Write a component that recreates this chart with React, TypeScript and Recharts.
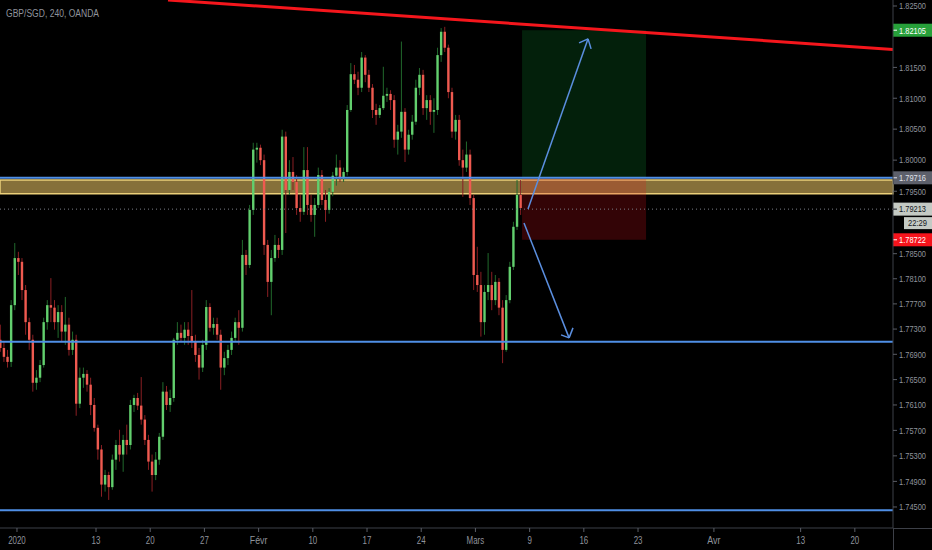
import React from 'react';
import {
  ComposedChart,
  Bar,
  XAxis,
  YAxis,
  ReferenceLine,
  ReferenceArea
} from 'recharts';

// GBP/SGD 8h bars (3 bars per trading day)
const START_DAY = 1.2;
const BARS_PER_DAY = 3;

const OPEN = [
  1.7713, 1.7700, 1.7686, 1.7678, 1.7768, 1.7843, 1.7837, 1.7792, 1.7741, 1.7713,
  1.7645, 1.7653, 1.7673, 1.7741, 1.7768, 1.7764, 1.7741, 1.7757, 1.7726, 1.7737,
  1.7697, 1.7713, 1.7612, 1.7653, 1.7659, 1.7642, 1.7610, 1.7574, 1.7540, 1.7485,
  1.7500, 1.7481, 1.7524, 1.7547, 1.7532, 1.7555, 1.7547, 1.7610, 1.7621, 1.7609,
  1.7587, 1.7555, 1.7521, 1.7500, 1.7524, 1.7560, 1.7631, 1.7610, 1.7621, 1.7713,
  1.7724, 1.7716, 1.7729, 1.7719, 1.7710, 1.7689, 1.7669, 1.7705, 1.7765, 1.7732,
  1.7738, 1.7721, 1.7669, 1.7684, 1.7697, 1.7716, 1.7741, 1.7732, 1.7848, 1.7832,
  1.7920, 1.8017, 1.8020, 1.8000, 1.7864, 1.7805, 1.7843, 1.7864, 1.7856, 1.8038,
  1.7952, 1.7981, 1.7965, 1.7923, 1.7917, 1.7984, 1.7928, 1.7912, 1.7928, 1.7976,
  1.7936, 1.7920, 1.7949, 1.7975, 1.7988, 1.7971, 1.7981, 1.8081, 1.8139, 1.8130,
  1.8117, 1.8166, 1.8138, 1.8117, 1.8081, 1.8073, 1.8084, 1.8104, 1.8107, 1.8097,
  1.8033, 1.8046, 1.8078, 1.8017, 1.8041, 1.8062, 1.8117, 1.8138, 1.8084, 1.8097,
  1.8078, 1.8081, 1.8170, 1.8208, 1.8182, 1.8110, 1.8046, 1.8065, 1.8000, 1.7988,
  1.8009, 1.7939, 1.7816, 1.7800, 1.7741, 1.7789, 1.7800, 1.7776, 1.7805, 1.7764,
  1.7697, 1.7776, 1.7829, 1.7893, 1.7944
];

const HIGH = [
  1.7737, 1.7710, 1.7697, 1.7776, 1.7867, 1.7853, 1.7843, 1.7800, 1.7748, 1.7721,
  1.7665, 1.7681, 1.7748, 1.7776, 1.7811, 1.7776, 1.7768, 1.7768, 1.7781, 1.7748,
  1.7726, 1.7721, 1.7669, 1.7669, 1.7665, 1.7653, 1.7621, 1.7579, 1.7547, 1.7508,
  1.7505, 1.7532, 1.7555, 1.7571, 1.7563, 1.7579, 1.7618, 1.7626, 1.7629, 1.7654,
  1.7594, 1.7563, 1.7532, 1.7536, 1.7566, 1.7646, 1.7640, 1.7634, 1.7716, 1.7741,
  1.7737, 1.7741, 1.7741, 1.7792, 1.7721, 1.7700, 1.7713, 1.7776, 1.7771, 1.7748,
  1.7748, 1.7729, 1.7694, 1.7705, 1.7726, 1.7748, 1.7760, 1.7872, 1.7856, 1.7928,
  1.8028, 1.8028, 1.8025, 1.8009, 1.7872, 1.7856, 1.7880, 1.7875, 1.8049, 1.8046,
  1.8000, 1.8005, 1.7976, 1.7944, 1.8021, 1.8021, 1.7944, 1.7939, 1.7988, 1.7984,
  1.7952, 1.7955, 1.7981, 1.8009, 1.8000, 1.7988, 1.8089, 1.8157, 1.8154, 1.8143,
  1.8175, 1.8170, 1.8146, 1.8123, 1.8091, 1.8089, 1.8151, 1.8117, 1.8113, 1.8105,
  1.8057, 1.8192, 1.8084, 1.8049, 1.8073, 1.8130, 1.8149, 1.8146, 1.8105, 1.8105,
  1.8100, 1.8182, 1.8214, 1.8216, 1.8187, 1.8117, 1.8073, 1.8073, 1.8017, 1.8030,
  1.8017, 1.7944, 1.7861, 1.7821, 1.7800, 1.7851, 1.7821, 1.7816, 1.7811, 1.7776,
  1.7784, 1.7837, 1.7901, 1.7968, 1.7968
];

const LOW = [
  1.7694, 1.7678, 1.7669, 1.7670, 1.7760, 1.7816, 1.7776, 1.7721, 1.7697, 1.7631,
  1.7634, 1.7646, 1.7669, 1.7729, 1.7741, 1.7729, 1.7716, 1.7710, 1.7705, 1.7688,
  1.7689, 1.7593, 1.7605, 1.7637, 1.7631, 1.7594, 1.7568, 1.7524, 1.7466, 1.7474,
  1.7461, 1.7477, 1.7508, 1.7521, 1.7505, 1.7532, 1.7540, 1.7599, 1.7602, 1.7579,
  1.7547, 1.7508, 1.7474, 1.7492, 1.7516, 1.7555, 1.7602, 1.7599, 1.7615, 1.7705,
  1.7710, 1.7705, 1.7705, 1.7700, 1.7678, 1.7650, 1.7662, 1.7697, 1.7726, 1.7721,
  1.7713, 1.7634, 1.7657, 1.7673, 1.7689, 1.7710, 1.7705, 1.7726, 1.7816, 1.7827,
  1.7912, 1.7996, 1.7992, 1.7848, 1.7781, 1.7752, 1.7837, 1.7843, 1.7848, 1.7883,
  1.7944, 1.7952, 1.7912, 1.7901, 1.7912, 1.7912, 1.7901, 1.7877, 1.7923, 1.7928,
  1.7901, 1.7914, 1.7942, 1.7959, 1.7965, 1.7965, 1.7975, 1.8078, 1.8123, 1.8105,
  1.8110, 1.8126, 1.8110, 1.8068, 1.8057, 1.8068, 1.8081, 1.8094, 1.8081, 1.8020,
  1.8009, 1.8036, 1.7997, 1.8009, 1.8033, 1.8057, 1.8105, 1.8073, 1.8065, 1.8057,
  1.8044, 1.8073, 1.8159, 1.8175, 1.8100, 1.8036, 1.8033, 1.7991, 1.7941, 1.7981,
  1.7928, 1.7792, 1.7789, 1.7718, 1.7721, 1.7776, 1.7760, 1.7768, 1.7752, 1.7676,
  1.7694, 1.7771, 1.7824, 1.7888, 1.7912
];

const CLOSE = [
  1.7700, 1.7686, 1.7678, 1.7768, 1.7843, 1.7837, 1.7792, 1.7741, 1.7713, 1.7645,
  1.7653, 1.7673, 1.7741, 1.7768, 1.7764, 1.7741, 1.7757, 1.7726, 1.7737, 1.7697,
  1.7713, 1.7612, 1.7653, 1.7659, 1.7642, 1.7610, 1.7574, 1.7540, 1.7485, 1.7500,
  1.7481, 1.7524, 1.7547, 1.7532, 1.7555, 1.7547, 1.7610, 1.7621, 1.7609, 1.7587,
  1.7555, 1.7521, 1.7500, 1.7524, 1.7560, 1.7631, 1.7610, 1.7621, 1.7713, 1.7724,
  1.7716, 1.7729, 1.7719, 1.7710, 1.7689, 1.7669, 1.7705, 1.7765, 1.7732, 1.7738,
  1.7721, 1.7669, 1.7684, 1.7697, 1.7716, 1.7741, 1.7732, 1.7848, 1.7832, 1.7920,
  1.8017, 1.8020, 1.8000, 1.7864, 1.7805, 1.7843, 1.7864, 1.7856, 1.8038, 1.7952,
  1.7981, 1.7965, 1.7923, 1.7917, 1.7984, 1.7928, 1.7912, 1.7928, 1.7976, 1.7936,
  1.7920, 1.7949, 1.7975, 1.7988, 1.7971, 1.7981, 1.8081, 1.8139, 1.8130, 1.8117,
  1.8166, 1.8138, 1.8117, 1.8081, 1.8073, 1.8084, 1.8104, 1.8107, 1.8097, 1.8033,
  1.8046, 1.8078, 1.8017, 1.8041, 1.8062, 1.8117, 1.8138, 1.8084, 1.8097, 1.8078,
  1.8081, 1.8170, 1.8208, 1.8182, 1.8110, 1.8046, 1.8065, 1.8000, 1.7988, 1.8009,
  1.7939, 1.7816, 1.7800, 1.7741, 1.7789, 1.7800, 1.7776, 1.7805, 1.7764, 1.7697,
  1.7776, 1.7829, 1.7893, 1.7944, 1.7923
];

// axis (x in trading days)
const X_TICKS = [2.71, 10, 15, 20, 25, 30, 35, 40, 45, 50, 55, 60, 67, 75, 80];
const X_LABELS = ['2020', '13', '20', '27', 'Févr', '10', '17', '24', 'Mars', '9', '16', '23', 'Avr', '13', '20'];
// 1.820 and 1.790 sit under the price tags, so they are left out
const Y_TICKS = [
  1.825, 1.815, 1.81, 1.805, 1.8, 1.795, 1.785,
  1.781, 1.777, 1.773, 1.769, 1.765, 1.761, 1.757, 1.753, 1.749, 1.745
];
const X_DOMAIN = [1.144, 83.52];
const Y_DOMAIN = [1.74172, 1.82598];

// drawings
const ZONE = [1.7946, 1.7968];
const RESISTANCE = 1.79716;
const SUPPORT = 1.771;
const FLOOR = 1.7445;
const LAST = 1.79213;
const TARGET = 1.82105;
const STOP = 1.78722;
const POSITION_X = [49.3, 60.74];
const TREND = [{ x: 16.64, y: 1.82598 }, { x: 83.52, y: 1.81793 }];
const ARROW_UP = [{ x: 49.85, y: 1.79216 }, { x: 55.39, y: 1.81964 }];
const ARROW_UP_HEAD = [{ x: 54.56, y: 1.81899 }, { x: 55.67, y: 1.81801 }];
const ARROW_DOWN = [{ x: 49.48, y: 1.78992 }, { x: 53.64, y: 1.7716 }];
const ARROW_DOWN_HEAD = [{ x: 52.9, y: 1.77208 }, { x: 54.0, y: 1.77319 }];

const data = CLOSE.map((c, i) => ({
  t: START_DAY + i / BARS_PER_DAY,
  open: OPEN[i],
  high: HIGH[i],
  low: LOW[i],
  close: c,
  range: [LOW[i], HIGH[i]]
}));

const TEXT = '#8f939c';
const AXIS = '#3d4048';
const FONT = "'Liberation Sans', Arial, sans-serif";

const Candle = (props: any) => {
  const { x, y, width, height, payload } = props;
  if (!payload || height == null) return null;
  const { open, close, high, low } = payload;
  const up = close >= open;
  const top = Math.min(y, y + height);
  const h = Math.abs(height);
  const span = Math.log(high) - Math.log(low);
  const at = (v: number) => (span > 0 ? top + (h * (Math.log(high) - Math.log(v))) / span : top);
  const cx = x + width / 2;
  const bTop = at(Math.max(open, close));
  const bBot = at(Math.min(open, close));
  return (
    <g>
      <line x1={cx} x2={cx} y1={top} y2={top + h} stroke={up ? '#21692c' : '#8a1f23'} strokeWidth={1} />
      <rect x={cx - 1.2} y={bTop} width={2.4} height={Math.max(bBot - bTop, 1)} fill={up ? '#62cf6e' : '#ef5a50'} />
    </g>
  );
};

const XTick = (p: any) => {
  const label = X_LABELS[X_TICKS.indexOf(p.payload.value)] || '';
  return (
    <text x={p.x} y={p.y} dy={10} textAnchor="middle" fill={TEXT} fontSize={10} fontFamily={FONT}
      textLength={label.length * 4.4} lengthAdjust="spacingAndGlyphs">
      {label}
    </text>
  );
};

const YTick = (p: any) => (
  <text x={p.x} y={p.y} dy={3.3} textAnchor="start" fill={TEXT} fontSize={9} fontFamily={FONT}
    textLength={27} lengthAdjust="spacingAndGlyphs">
    {p.payload.value.toFixed(5)}
  </text>
);

const tag = (text: string, bg: string, fg: string) => (props: any) => {
  const vb = props.viewBox;
  const x = vb.x + vb.width;
  const y = vb.y;
  return (
    <g>
      <rect x={x} y={y - 6.5} width={39} height={13} fill={bg} />
      <line x1={x} x2={x + 4} y1={y} y2={y} stroke={fg} />
      <text x={x + 6} y={y} dy={3.3} fill={fg} fontSize={9} fontFamily={FONT}
        textLength={27} lengthAdjust="spacingAndGlyphs">
        {text}
      </text>
    </g>
  );
};

const lastTag = (props: any) => {
  const vb = props.viewBox;
  const x = vb.x + vb.width;
  const y = vb.y;
  return (
    <g>
      <rect x={x} y={y - 6.5} width={39} height={13} fill="#c4cac4" />
      <line x1={x} x2={x + 4} y1={y} y2={y} stroke="#131722" />
      <text x={x + 6} y={y} dy={3.3} fill="#131722" fontSize={9} fontFamily={FONT}
        textLength={27} lengthAdjust="spacingAndGlyphs">
        {LAST.toFixed(5)}
      </text>
      <rect x={x + 11} y={y + 8} width={28} height={12} fill="#c4cac4" />
      <text x={x + 15} y={y + 14} dy={3.3} fill="#131722" fontSize={9} fontFamily={FONT}
        textLength={19} lengthAdjust="spacingAndGlyphs">
        22:29
      </text>
    </g>
  );
};

const App = () => {
  return (
    <div style={{ position: 'absolute', left: 0, top: 0, width: 932, height: 550, background: '#000' }}>
      <ComposedChart
        width={932}
        height={550}
        data={data}
        margin={{ top: 0, right: 0, left: 0, bottom: 0 }}
      >
        <XAxis
          dataKey="t"
          type="number"
          domain={X_DOMAIN}
          allowDataOverflow
          ticks={X_TICKS}
          interval={0}
          height={22}
          tickSize={4}
          tickMargin={2}
          stroke={AXIS}
          tickLine={{ stroke: '#5a5d66' }}
          tick={<XTick />}
        />
        <YAxis
          orientation="right"
          scale="log"
          type="number"
          domain={Y_DOMAIN}
          allowDataOverflow
          ticks={Y_TICKS}
          interval={0}
          width={39}
          tickSize={4}
          tickMargin={2}
          stroke={AXIS}
          tickLine={{ stroke: '#5a5d66' }}
          tick={<YTick />}
        />
        <Bar dataKey="range" barSize={3} isAnimationActive={false} shape={(p: any) => <Candle {...p} />} />

        <ReferenceArea y1={ZONE[0]} y2={ZONE[1]} fill="#dfbb61" fillOpacity={0.6} stroke="#ecd07a" strokeWidth={1.5} />
        <ReferenceLine y={RESISTANCE} stroke="#4f8fe6" strokeWidth={2} label={tag(RESISTANCE.toFixed(5), '#5d606b', '#e0e3eb')} />
        <ReferenceLine y={SUPPORT} stroke="#4f8fe6" strokeWidth={2} />
        <ReferenceLine y={FLOOR} stroke="#4f8fe6" strokeWidth={2} />
        <ReferenceLine y={LAST} stroke="#7a7d86" strokeDasharray="1 3" label={lastTag} />

        <ReferenceArea x1={POSITION_X[0]} x2={POSITION_X[1]} y1={RESISTANCE} y2={TARGET} fill="#0f9130" fillOpacity={0.22} />
        <ReferenceArea x1={POSITION_X[0]} x2={POSITION_X[1]} y1={STOP} y2={RESISTANCE} fill="#e8121b" fillOpacity={0.22} />
        <ReferenceLine y={TARGET} strokeOpacity={0} label={tag(TARGET.toFixed(5), '#27a03a', '#ffffff')} />
        <ReferenceLine y={STOP} strokeOpacity={0} label={tag(STOP.toFixed(5), '#f5141c', '#ffffff')} />

        <ReferenceLine segment={TREND} stroke="#f5161c" strokeWidth={3} ifOverflow="hidden" />
        <ReferenceLine segment={ARROW_UP} stroke="#5b8fe0" strokeWidth={1.5} />
        <ReferenceLine segment={[ARROW_UP_HEAD[0], ARROW_UP[1]]} stroke="#5b8fe0" strokeWidth={1.5} />
        <ReferenceLine segment={[ARROW_UP[1], ARROW_UP_HEAD[1]]} stroke="#5b8fe0" strokeWidth={1.5} />
        <ReferenceLine segment={ARROW_DOWN} stroke="#5b8fe0" strokeWidth={1.5} />
        <ReferenceLine segment={[ARROW_DOWN_HEAD[0], ARROW_DOWN[1]]} stroke="#5b8fe0" strokeWidth={1.5} />
        <ReferenceLine segment={[ARROW_DOWN[1], ARROW_DOWN_HEAD[1]]} stroke="#5b8fe0" strokeWidth={1.5} />
      </ComposedChart>
      <div style={{ position: 'absolute', left: 893, top: 528, width: 1, height: 22, background: AXIS }} />
      <div style={{ position: 'absolute', left: 893, top: 528, width: 39, height: 1, background: AXIS }} />
      <svg style={{ position: 'absolute', left: 0, top: 0 }} width={200} height={24}>
        <text x={6} y={17} fill={TEXT} fontSize={10} fontFamily={FONT} textLength={93} lengthAdjust="spacingAndGlyphs">
          GBP/SGD, 240, OANDA
        </text>
      </svg>
    </div>
  );
};

export default App;
